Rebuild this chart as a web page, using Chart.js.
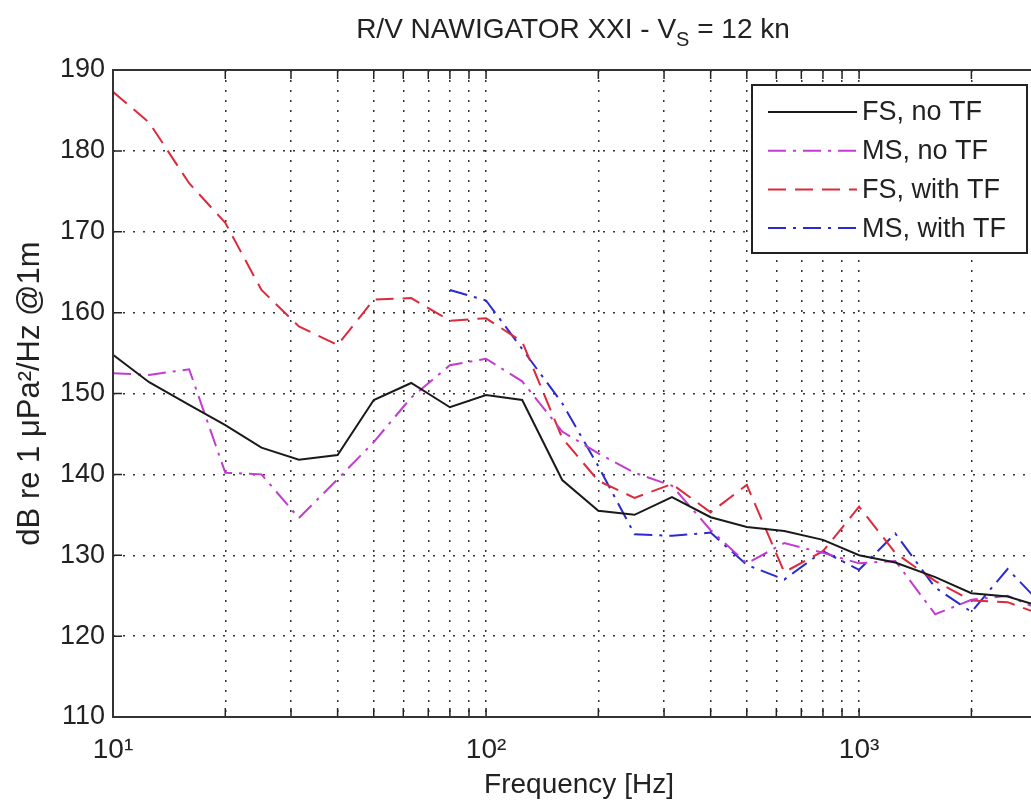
<!DOCTYPE html>
<html><head><meta charset="utf-8">
<script src="https://cdn.jsdelivr.net/npm/chart.js@4.4.1/dist/chart.umd.min.js"></script>
<style>
html,body{margin:0;padding:0;overflow:hidden;background:#fff;}
#wrap{width:1060px;height:805px;position:relative;}
</style></head><body>
<div id="wrap"><canvas id="c"></canvas></div>
<script>
// 1/3-octave band centre frequencies [Hz]
const freqs = [10,12.5,16,20,25,31.5,40,50,63,80,100,125,160,200,250,315,400,500,630,800,1000,1250,1600,2000,2500,3150];
// dB re 1 uPa^2/Hz @1m
const fsNoTF   = [154.8,151.4,148.6,146.1,143.3,141.8,142.4,149.2,151.3,148.3,149.8,149.2,139.3,135.5,135.0,137.2,134.7,133.5,133.0,131.9,130.0,129.1,127.3,125.3,124.9,123.5];
const msNoTF   = [152.5,152.3,153.0,140.2,140.0,134.6,139.4,144.0,149.5,153.5,154.3,151.5,145.3,142.6,140.2,138.6,133.1,129.0,131.5,130.3,129.0,129.3,122.7,124.5,125.0,123.0];
const fsWithTF = [187.3,183.5,176.0,171.1,162.8,158.3,156.0,161.6,161.8,159.0,159.3,156.4,144.5,139.2,137.1,138.8,135.3,138.7,127.9,130.5,136.0,130.3,126.8,124.4,124.2,122.5];
const msWithTF = [null,null,null,null,null,null,null,null,null,162.8,161.5,155.5,148.8,141.0,132.6,132.4,132.8,128.8,127.0,130.5,128.2,132.7,126.0,123.0,128.3,123.5];

const seriesNames = ['FS, no TF','MS, no TF','FS, with TF','MS, with TF'];
const xTickValues = [10,20,30,40,50,60,70,80,90,100,200,300,400,500,600,700,800,900,1000,2000,3000];
const xTickLabels = {10:'10\u00B9',100:'10\u00B2',1000:'10\u00B3'};
const yTickValues = [110,120,130,140,150,160,170,180,190];
const titleMain = 'R/V NAWIGATOR XXI - V';
const titleSub = 'S';
const titleEnd = ' = 12 kn';
const xTitle = 'Frequency [Hz]';
const yTitle = 'dB re 1 \u03BCPa\u00B2/Hz @1m';

const FONT = "'Liberation Sans', Arial, sans-serif";
Chart.defaults.font.family = FONT;
Chart.defaults.color = '#222';

const styles = [
  {color:'#1a1a1a', dash:[], width:2},
  {color:'#c23ccf', dash:[18,7,3,7], width:2},
  {color:'#dc2a3c', dash:[18,9], width:2},
  {color:'#2a2ad0', dash:[18,7,3,7], width:2}
];
const allSeries = [fsNoTF, msNoTF, fsWithTF, msWithTF];

const datasets = allSeries.map((arr,k)=>({
  label: seriesNames[k],
  data: freqs.map((f,i)=>({x:f, y:arr[i]})),
  borderColor: styles[k].color,
  borderDash: styles[k].dash,
  borderWidth: styles[k].width,
  pointRadius: 0,
  fill: false,
  tension: 0,
  spanGaps: false
}));

const matlabPlugin = {
  id: 'matlabDecor',
  afterDraw(chart){
    const {ctx, chartArea:a, scales:{x, y}} = chart;
    ctx.save();
    // inner tick marks
    ctx.strokeStyle = '#222'; ctx.lineWidth = 1.5; ctx.setLineDash([]);
    ctx.beginPath();
    xTickValues.forEach(v=>{
      const px = x.getPixelForValue(v);
      ctx.moveTo(px, a.bottom); ctx.lineTo(px, a.bottom-9);
      ctx.moveTo(px, a.top); ctx.lineTo(px, a.top+9);
    });
    yTickValues.forEach(v=>{
      const py = y.getPixelForValue(v);
      ctx.moveTo(a.left, py); ctx.lineTo(a.left+9, py);
      ctx.moveTo(a.right, py); ctx.lineTo(a.right-9, py);
    });
    ctx.stroke();
    // axes box
    ctx.lineWidth = 2; ctx.strokeStyle = '#333';
    ctx.strokeRect(a.left, a.top, a.right-a.left, a.bottom-a.top);
    // title with subscript
    ctx.fillStyle = '#222';
    ctx.textBaseline = 'alphabetic';
    ctx.textAlign = 'left';
    const big = "28px " + FONT, small = "20px " + FONT;
    ctx.font = big; const w1 = ctx.measureText(titleMain).width; const w3 = ctx.measureText(titleEnd).width;
    ctx.font = small; const w2 = ctx.measureText(titleSub).width;
    let tx = 573 - (w1+w2+w3)/2; const ty = 38;
    ctx.font = big; ctx.fillText(titleMain, tx, ty); tx += w1;
    ctx.font = small; ctx.fillText(titleSub, tx, ty+8); tx += w2;
    ctx.font = big; ctx.fillText(titleEnd, tx, ty);
    // legend
    const lf = "27px " + FONT;
    const bx = 752, by = 85, bw = 275, bh = 168;
    ctx.fillStyle = '#fff'; ctx.fillRect(bx, by, bw, bh);
    ctx.lineWidth = 2; ctx.strokeStyle = '#222'; ctx.strokeRect(bx, by, bw, bh);
    ctx.font = lf; ctx.textBaseline = 'middle';
    chart.data.datasets.forEach((ds,i)=>{
      const ry = by + 27 + i*38.7;
      ctx.strokeStyle = ds.borderColor; ctx.lineWidth = ds.borderWidth;
      ctx.setLineDash(ds.borderDash);
      ctx.beginPath(); ctx.moveTo(bx+16, ry); ctx.lineTo(bx+105, ry); ctx.stroke();
      ctx.setLineDash([]);
      ctx.fillStyle = '#222';
      ctx.fillText(ds.label, bx+110, ry+1);
    });
    ctx.restore();
  }
};

new Chart(document.getElementById('c'), {
  type: 'line',
  data: { datasets },
  options: {
    responsive: true,
    maintainAspectRatio: false,
    animation: false,
    layout: { padding: {top:70, left:0, right:15, bottom:0} },
    plugins: { legend:{display:false}, title:{display:false}, tooltip:{enabled:false} },
    scales: {
      x: {
        type: 'logarithmic',
        min: 10, max: 3150,
        afterBuildTicks: (s)=>{ s.ticks = xTickValues.map(v=>({value:v})); },
        afterFit: (s)=>{ s.height = 88; },
        ticks: {
          autoSkip:false, maxRotation:0, padding:16,
          font:{size:28}, color:'#222',
          callback: (v)=> xTickLabels[v] || ''
        },
        grid: { color:'#333', lineWidth:1.5, drawTicks:false },
        border: { display:false, dash:[2,8] },
        title: { display:true, text:xTitle, font:{size:28}, color:'#222', padding:{top:0,bottom:3} }
      },
      y: {
        min: 110, max: 190,
        afterBuildTicks: (s)=>{ s.ticks = yTickValues.map(v=>({value:v})); },
        afterFit: (s)=>{ s.width = 113; },
        ticks: { padding:8, font:{size:27}, color:'#222' },
        grid: { color:'#333', lineWidth:1.5, drawTicks:false },
        border: { display:false, dash:[2,8] },
        title: { display:true, text:yTitle, font:{size:31}, color:'#222', padding:{top:12,bottom:0} }
      }
    }
  },
  plugins: [matlabPlugin]
});
</script>
</body></html>
